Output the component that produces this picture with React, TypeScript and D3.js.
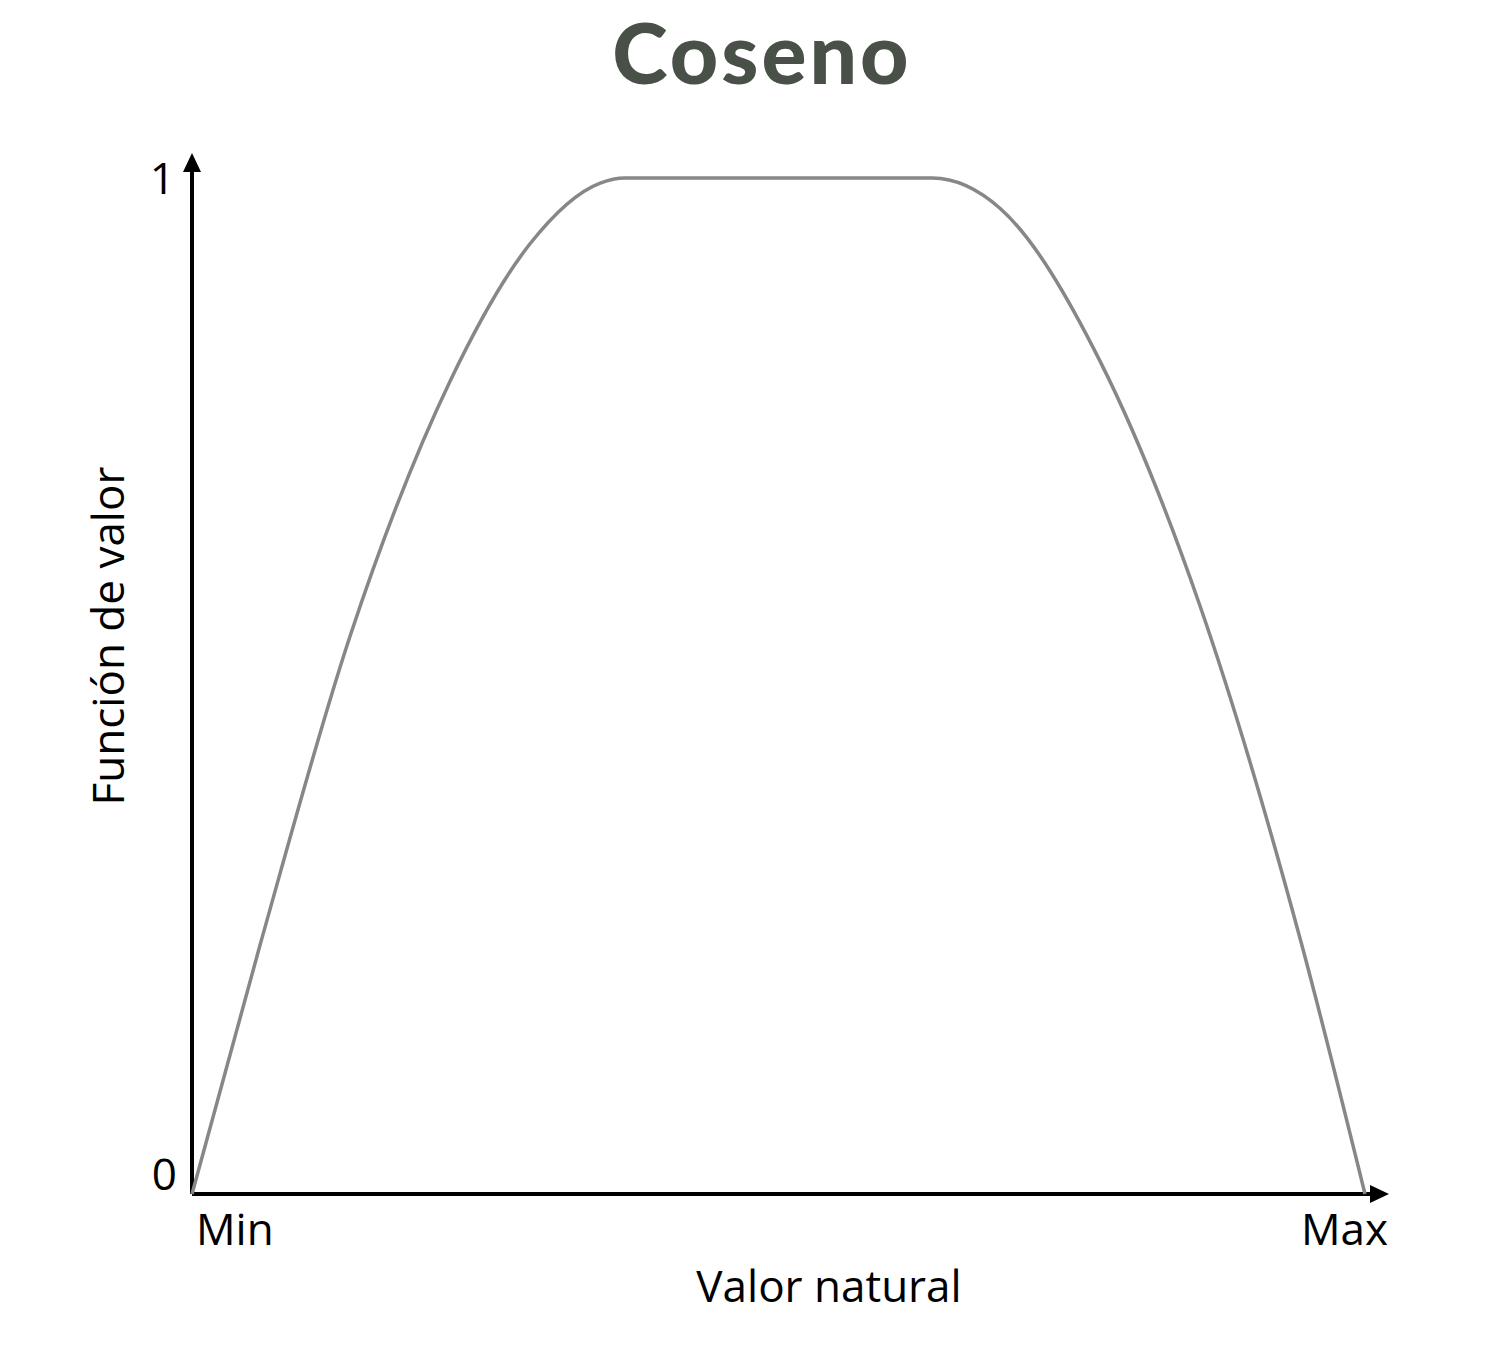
import * as d3 from 'd3'

// natural value (0 = Min, 1 = Max) and value function readings
const naturalValue = [0, 0.058, 0.135, 0.22, 0.288, 0.348, 0.369, 0.631, 0.689, 0.774, 0.859, 0.945, 1]
const valueFn = [0, 0.245, 0.55, 0.8, 0.935, 0.995, 1, 1, 0.97, 0.82, 0.58, 0.25, 0]
const yTicks = [0, 1]
const xTickLabels = ['Min', 'Max']

const W = 1499
const H = 1348
const font = '"Open Sans", "Noto Sans", sans-serif'

export default function App() {
  const x = d3.scaleLinear().domain([0, 1]).range([192, 1365])
  const y = d3.scaleLinear().domain([0, 1]).range([1194, 178])
  const pts = naturalValue.map((v, i) => [v, valueFn[i]] as [number, number])
  const line = d3
    .line<[number, number]>()
    .x((d) => x(d[0]))
    .y((d) => y(d[1]))
    .curve(d3.curveMonotoneX)

  const ox = x(0)
  const oy = y(0)

  return (
    <svg width={W} height={H} style={{ position: 'absolute', left: 0, top: 0, background: '#fff' }}>
      <text x={762} y={84} textAnchor="middle" fontFamily="Lato, sans-serif" fontWeight={900}
        fontSize={84} fill="#485047" letterSpacing={3}>Coseno</text>

      <line x1={ox} y1={oy} x2={ox} y2={168} stroke="#000" strokeWidth={4} />
      <path d={`M${ox - 9},${172} L${ox},${153} L${ox + 9},${172} Z`} fill="#000" />
      <line x1={ox} y1={oy} x2={1375} y2={oy} stroke="#000" strokeWidth={4} />
      <path d={`M1370,${oy - 9} L1389,${oy} L1370,${oy + 9} Z`} fill="#000" />

      <path d={line(pts) ?? ''} fill="none" stroke="#878787" strokeWidth={3.5} />

      {yTicks.map((t) => (
        <text key={t} x={t === 1 ? 175 : 177} y={t === 1 ? y(t) + 16 : y(t) - 4} textAnchor="end"
          fontFamily={font} fontSize={44}>{t}</text>
      ))}
      <text x={196} y={1245} fontFamily={font} fontSize={44}>{xTickLabels[0]}</text>
      <text x={1388} y={1245} textAnchor="end" fontFamily={font} fontSize={44}>{xTickLabels[1]}</text>
      <text x={829} y={1302} textAnchor="middle" fontFamily={font} fontSize={44}>Valor natural</text>
      <text transform="translate(124,636) rotate(-90)" textAnchor="middle" fontFamily={font}
        fontSize={44}>Función de valor</text>
    </svg>
  )
}
